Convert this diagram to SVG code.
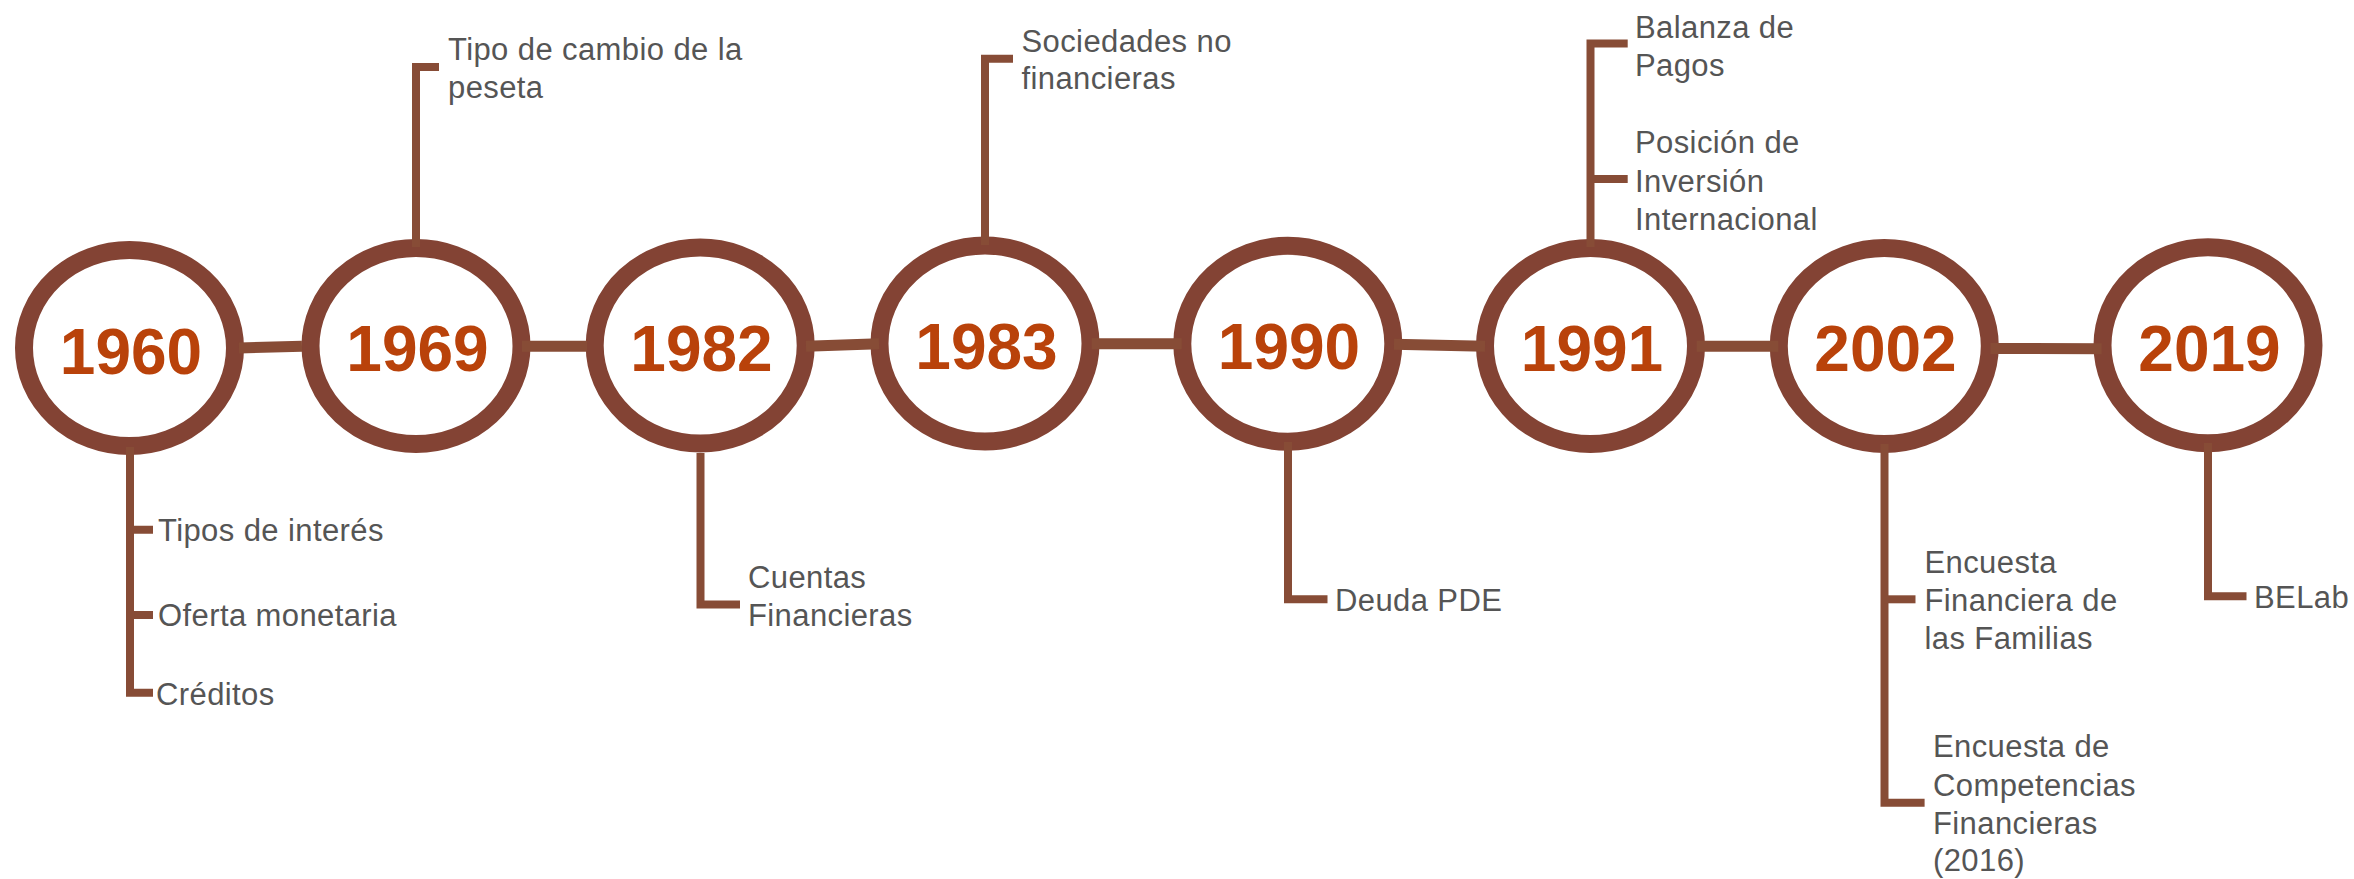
<svg xmlns="http://www.w3.org/2000/svg" width="2354" height="879" viewBox="0 0 2354 879">
<style>
.ring{fill:#ffffff;stroke:#834334;stroke-width:18}
.year{font-family:"Liberation Sans",Arial,sans-serif;font-weight:bold;font-size:64px;fill:#B9420A;text-anchor:middle}
.lbl{font-family:"Liberation Sans",Arial,sans-serif;font-size:31px;fill:#555555;letter-spacing:0.4px}
.link{stroke:#874C36;stroke-width:11;fill:none}
.stem{stroke:#874C36;stroke-width:8;fill:none;stroke-linejoin:miter;stroke-linecap:butt}
</style>
<rect width="2354" height="879" fill="#ffffff"/>
<g id="n1960">
<ellipse class="ring" cx="129.5" cy="348" rx="105.5" ry="98"/>
<text class="year" x="131" y="373.5">1960</text>
<text class="lbl" x="158" y="541">Tipos de interés</text>
<text class="lbl" x="158" y="625.7">Oferta monetaria</text>
<text class="lbl" x="156" y="705">Créditos</text>
</g>
<g id="n1969">
<ellipse class="ring" cx="416" cy="346" rx="105.5" ry="98"/>
<text class="year" x="417.5" y="371">1969</text>
<text class="lbl" x="448" y="60">Tipo de cambio de la</text>
<text class="lbl" x="448" y="97.5">peseta</text>
</g>
<g id="n1982">
<ellipse class="ring" cx="700.2" cy="345.5" rx="105.5" ry="98"/>
<text class="year" x="701.5" y="370.7">1982</text>
<text class="lbl" x="748" y="588.3">Cuentas</text>
<text class="lbl" x="748" y="626">Financieras</text>
</g>
<g id="n1983">
<ellipse class="ring" cx="985" cy="343.5" rx="105.5" ry="98"/>
<text class="year" x="986.5" y="369">1983</text>
<text class="lbl" x="1021.5" y="51.7">Sociedades no</text>
<text class="lbl" x="1021.5" y="89.3">financieras</text>
</g>
<g id="n1990">
<ellipse class="ring" cx="1287.8" cy="343.7" rx="105.5" ry="98"/>
<text class="year" x="1289" y="369">1990</text>
<text class="lbl" x="1335" y="610.7">Deuda PDE</text>
</g>
<g id="n1991">
<ellipse class="ring" cx="1590.5" cy="346" rx="105.5" ry="98"/>
<text class="year" x="1592" y="371">1991</text>
<text class="lbl" x="1635" y="37.7">Balanza de</text>
<text class="lbl" x="1635" y="75.5">Pagos</text>
<text class="lbl" x="1635" y="153.3">Posición de</text>
<text class="lbl" x="1635" y="191.7">Inversión</text>
<text class="lbl" x="1635" y="230">Internacional</text>
</g>
<g id="n2002">
<ellipse class="ring" cx="1884.3" cy="346" rx="105.5" ry="98"/>
<text class="year" x="1885.5" y="371">2002</text>
<text class="lbl" x="1924.5" y="572.7">Encuesta</text>
<text class="lbl" x="1924.5" y="611">Financiera de</text>
<text class="lbl" x="1924.5" y="649.3">las Familias</text>
<text class="lbl" x="1933" y="757.3">Encuesta de</text>
<text class="lbl" x="1933" y="795.7">Competencias</text>
<text class="lbl" x="1933" y="834.3">Financieras</text>
<text class="lbl" x="1933" y="871">(2016)</text>
</g>
<g id="n2019">
<ellipse class="ring" cx="2208" cy="345.3" rx="105.5" ry="98"/>
<text class="year" x="2209.5" y="370.5">2019</text>
<text class="lbl" x="2254" y="608.3">BELab</text>
</g>
<g id="connectors">
<line class="link" x1="239" y1="348" x2="302" y2="346.3"/>
<line class="link" x1="522" y1="346.2" x2="587" y2="346.2"/>
<line class="link" x1="806" y1="346.2" x2="879" y2="343.8"/>
<line class="link" x1="1091.7" y1="343.8" x2="1181.7" y2="343.8"/>
<line class="link" x1="1394" y1="344.2" x2="1485" y2="346.2"/>
<line class="link" x1="1696.7" y1="346.2" x2="1778.3" y2="346.2"/>
<line class="link" x1="1990.5" y1="348.5" x2="2101.7" y2="348.7"/>
<path class="stem" d="M130,447 V692.7 H153"/>
<path class="stem" d="M130,529.7 H153 M130,615 H153"/>
<path class="stem" d="M416,247 V67 H439"/>
<path class="stem" d="M700.5,453 V604.5 H740"/>
<path class="stem" d="M985,245 V58.7 H1013"/>
<path class="stem" d="M1288,442 V599.2 H1327.5"/>
<path class="stem" d="M1590.5,247 V43.5 H1627.7"/>
<path class="stem" d="M1590.5,179 H1627.7"/>
<path class="stem" d="M1884.5,444 V802.8 H1924.6"/>
<path class="stem" d="M1884.5,599.3 H1915.5"/>
<path class="stem" d="M2208,443 V596.2 H2246.5"/>
</g>
</svg>
